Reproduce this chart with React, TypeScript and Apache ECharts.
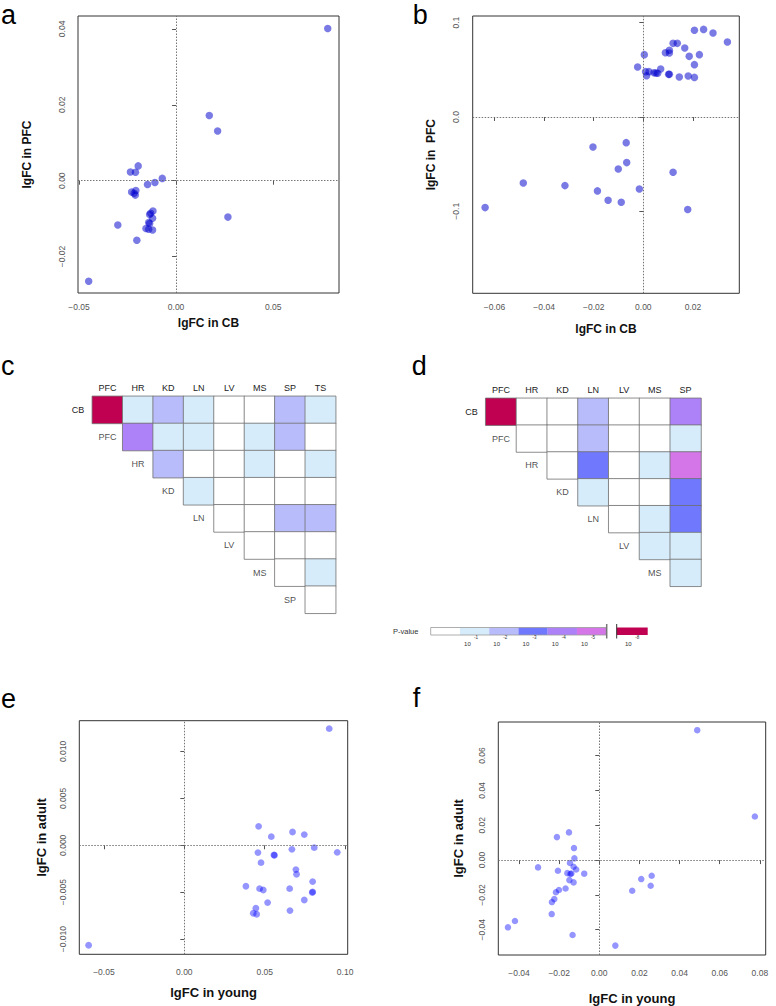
import React, { useEffect, useRef } from "react";
import * as echarts from "echarts";

// ---------- data ----------
const aCB = [0.0781, 0.0171, 0.0214, 0.0267, -0.0195, -0.0235, -0.0209, -0.0071, -0.0109, -0.0147, -0.0229, -0.0216, -0.021, -0.0207, -0.0119, -0.0131, -0.0136, -0.0121, -0.0141, -0.0136, -0.0155, -0.0141, -0.0121, -0.03, -0.0202, -0.045];
const aPFC = [0.0401, 0.0172, 0.0131, -0.0096, 0.0039, 0.0023, 0.0022, 0.0006, -0.0005, -0.001, -0.003, -0.0033, -0.0038, -0.0026, -0.008, -0.0086, -0.0089, -0.0099, -0.011, -0.0113, -0.0126, -0.0128, -0.013, -0.0117, -0.0157, -0.0265];

const bCB = [0.0339, 0.0243, 0.0206, 0.0281, 0.012, 0.0137, 0.0167, 0.0089, 0.0105, 0.0105, 0.0004, 0.0185, 0.0226, 0.0206, -0.0023, 0.007, 0.0009, 0.0023, 0.0043, 0.0058, 0.0013, 0.0102, 0.0105, 0.0145, 0.0181, 0.0206, 0.0051, -0.0203, -0.0069, -0.0067, -0.0101, 0.012, -0.0484, -0.0316, -0.0185, -0.0016, -0.0142, -0.0089, 0.0179, -0.0638];
const bPFC = [0.0795, 0.0929, 0.0919, 0.089, 0.0781, 0.0781, 0.0731, 0.0682, 0.0707, 0.0678, 0.0661, 0.0643, 0.0661, 0.0555, 0.053, 0.0509, 0.0481, 0.0481, 0.047, 0.0463, 0.0438, 0.0452, 0.0452, 0.0424, 0.0435, 0.042, 0.0466, -0.0318, -0.0272, -0.0484, -0.0551, -0.0587, -0.07, -0.0728, -0.0784, -0.0763, -0.0883, -0.0905, -0.0982, -0.0961];

const eYoung = [0.0901, 0.0462, 0.0541, 0.0673, 0.0746, 0.0808, 0.0951, 0.0669, 0.0458, 0.0557, 0.0561, 0.0477, 0.0694, 0.0698, 0.0383, 0.0468, 0.0491, 0.0655, 0.0798, 0.0796, 0.0798, 0.0746, 0.0518, 0.0445, 0.0429, 0.045, 0.0657, -0.0595];
const eAdult = [0.01243, 0.00202, 0.00092, 0.00142, 0.00114, -0.00025, -0.00075, -0.00043, -0.00078, -0.00103, -0.00106, -0.00185, -0.00259, -0.00309, -0.00437, -0.00462, -0.00476, -0.00462, -0.00387, -0.00504, -0.00497, -0.00583, -0.00611, -0.00671, -0.00725, -0.00735, -0.00696, -0.01066];

const fYoung = [0.0488, 0.0775, -0.0151, -0.0211, -0.0126, -0.0124, -0.0146, -0.0305, -0.0128, -0.0115, -0.0206, -0.0159, -0.0144, -0.0139, -0.0075, 0.0261, 0.0209, -0.0149, -0.0128, 0.0256, -0.0168, -0.0201, -0.0216, 0.0164, -0.0224, -0.0236, -0.0237, -0.042, -0.0455, -0.0133, 0.008];
const fAdult = [0.0746, 0.025, 0.0159, 0.0132, 0.0069, 0.001, -0.0017, -0.0042, -0.0038, -0.0054, -0.0061, -0.0075, -0.008, -0.0077, -0.0078, -0.009, -0.0109, -0.0115, -0.0128, -0.0147, -0.0163, -0.0172, -0.0185, -0.0176, -0.0224, -0.0241, -0.031, -0.035, -0.0386, -0.043, -0.0491];

// tick values
const aXTicks = [-0.05, 0, 0.05];
const aYTicks = [-0.02, 0, 0.02, 0.04];
const bXTicks = [-0.06, -0.04, -0.02, 0, 0.02];
const bYTicks = [-0.1, 0, 0.1];
const eXTicks = [-0.05, 0, 0.05, 0.1];
const eYTicks = [-0.01, -0.005, 0, 0.005, 0.01];
const fXTicks = [-0.04, -0.02, 0, 0.02, 0.04, 0.06, 0.08];
const fYTicks = [-0.04, -0.02, 0, 0.02, 0.04, 0.06];

// heatmap c
const cCols = ["PFC", "HR", "KD", "LN", "LV", "MS", "SP", "TS"];
const cRows = ["CB", "PFC", "HR", "KD", "LN", "LV", "MS", "SP"];
const cLevels = [
  [6, 1, 2, 1, 0, 0, 2, 1],
  [4, 1, 1, 0, 1, 2, 0],
  [2, 0, 0, 1, 0, 1],
  [1, 0, 0, 0, 0],
  [0, 0, 2, 2],
  [0, 0, 0],
  [0, 1],
  [0],
];
// heatmap d
const dCols = ["PFC", "HR", "KD", "LN", "LV", "MS", "SP"];
const dRows = ["CB", "PFC", "HR", "KD", "LN", "LV", "MS"];
const dLevels = [
  [6, 0, 0, 2, 0, 0, 4],
  [0, 0, 2, 0, 0, 1],
  [0, 3, 0, 1, 5],
  [1, 0, 0, 3],
  [0, 1, 3],
  [1, 1],
  [1],
];

// P-value legend
const levelColors = ["#ffffff", "#d6ecfa", "#b9bcfa", "#7078fe", "#ad81f8", "#d476e8", "#c00050"];
const legendExponents = ["-1", "-2", "-3", "-4", "-5"];
const legendTopExponent = "-8";

const FONT = '"Liberation Sans", Arial, Helvetica, sans-serif';

const fmt = (dec: number) => (v: number) => {
  const s = Math.abs(v).toFixed(dec);
  return v < -1e-12 ? "\u2212" + s : s;
};

function valueAxis(
  gridIndex: number,
  min: number,
  max: number,
  ticks: number[],
  dec: number,
  name: string,
  nameGap: number,
  nameSize: number,
  labelMargin: number,
  isY: boolean
) {
  return {
    type: "value",
    gridIndex,
    min,
    max,
    scale: true,
    name,
    nameLocation: "middle",
    nameGap,
    nameTextStyle: { fontFamily: FONT, fontWeight: "bold", fontSize: nameSize, color: "#111" },
    axisLine: { show: false },
    splitLine: { show: false },
    axisTick: { show: true, customValues: ticks, length: 4, lineStyle: { color: "#555", width: 1 } },
    axisLabel: {
      customValues: ticks,
      formatter: fmt(dec),
      fontFamily: FONT,
      fontSize: 8.5,
      color: "#555",
      margin: labelMargin,
      rotate: isY ? 90 : 0,
    },
  };
}

function scatterSeries(idx: number, xs: number[], ys: number[], size: number, color: string) {
  return {
    type: "scatter",
    xAxisIndex: idx,
    yAxisIndex: idx,
    data: xs.map((x, i) => [x, ys[i]]),
    symbolSize: size,
    itemStyle: { color },
    silent: true,
    markLine: {
      silent: true,
      symbol: ["none", "none"],
      label: { show: false },
      lineStyle: { type: [1.5, 1.5], color: "#666", width: 0.9 },
      data: [{ xAxis: 0 }, { yAxis: 0 }],
    },
  };
}

function heatData(levels: number[][]) {
  const out: number[][] = [];
  levels.forEach((row, i) => row.forEach((lv, k) => out.push([i + k, i, lv])));
  return out;
}

function catAxes(gridIndex: number, cols: string[], rows: string[]) {
  const x = {
    type: "category",
    gridIndex,
    data: cols,
    position: "top",
    axisLine: { show: false },
    axisTick: { show: false },
    splitLine: { show: false },
    axisLabel: { fontFamily: FONT, fontSize: 9, color: "#222", margin: 4, interval: 0 },
  };
  const y = {
    type: "category",
    gridIndex,
    data: rows,
    inverse: true,
    axisLine: { show: false },
    axisTick: { show: false },
    splitLine: { show: false },
    axisLabel: {
      fontFamily: FONT,
      fontSize: 9,
      color: "#222",
      margin: 8,
      interval: 0,
      formatter: (v: string, i: number) => (i === 0 ? v : ""),
    },
  };
  return [x, y];
}

function heatSeries(idx: number, levels: number[][]) {
  return {
    type: "heatmap",
    xAxisIndex: idx,
    yAxisIndex: idx,
    data: heatData(levels),
    itemStyle: { borderColor: "#707070", borderWidth: 0.8 },
    emphasis: { disabled: true },
    silent: true,
  };
}

function rowLabelSeries(idx: number, rows: string[]) {
  return {
    type: "scatter",
    xAxisIndex: idx,
    yAxisIndex: idx,
    color: "#222222",
    symbol: "circle",
    symbolSize: 0.01,
    itemStyle: { color: "#222222" },
    silent: true,
    data: rows.slice(1).map((r, k) => [k, k + 1, r]),
    label: {
      show: true,
      position: [0, 0],
      align: "center",
      verticalAlign: "middle",
      formatter: (p: any) => p.value[2],
      fontFamily: FONT,
      fontSize: 9,
      color: "#222222",
      textBorderWidth: 0,
    },
  };
}

function legendGraphics() {
  const els: any[] = [];
  const x0 = 430.7;
  const segW = 29.25;
  const y0 = 627.5;
  const h = 7.5;
  for (let i = 0; i < 6; i++) {
    els.push({
      type: "rect",
      shape: { x: x0 + i * segW, y: y0, width: segW, height: h },
      style: { fill: levelColors[i], stroke: null },
    });
  }
  els.push({
    type: "rect",
    shape: { x: x0, y: y0, width: segW * 6, height: h },
    style: { fill: null, stroke: "#999", lineWidth: 0.8 },
  });
  els.push({
    type: "line",
    shape: { x1: x0 + segW * 6 + 0.5, y1: 624, x2: x0 + segW * 6 + 0.5, y2: 638.5 },
    style: { stroke: "#777", lineWidth: 1.5 },
  });
  els.push({
    type: "rect",
    shape: { x: 616.7, y: y0, width: 31, height: h },
    style: { fill: levelColors[6], stroke: null },
  });
  els.push({
    type: "line",
    shape: { x1: 616.7, y1: 624, x2: 616.7, y2: 638.5 },
    style: { stroke: "#333", lineWidth: 1 },
  });
  els.push({
    type: "text",
    x: 393,
    y: 631,
    style: { text: "P-value", font: `7.5px ${FONT}`, fill: "#333", verticalAlign: "middle", align: "left" },
  });
  legendExponents.forEach((e, i) => {
    const bx = x0 + segW * (i + 1);
    els.push({
      type: "text",
      x: bx + 7.5,
      y: 644.3,
      style: { text: "10", font: `6px ${FONT}`, fill: "#333", verticalAlign: "middle", align: "center" },
    });
    els.push({
      type: "text",
      x: bx + 16,
      y: 637.5,
      style: { text: e, font: `4.5px ${FONT}`, fill: "#333", verticalAlign: "middle", align: "center" },
    });
  });
  els.push({
    type: "text",
    x: 628.3,
    y: 644.3,
    style: { text: "10", font: `6px ${FONT}`, fill: "#333", verticalAlign: "middle", align: "center" },
  });
  els.push({
    type: "text",
    x: 637.3,
    y: 637.5,
    style: { text: legendTopExponent, font: `4.5px ${FONT}`, fill: "#333", verticalAlign: "middle", align: "center" },
  });
  return els;
}

function panelLetter(t: string, x: number, y: number) {
  return {
    type: "text",
    x,
    y,
    style: { text: t, font: `27px ${FONT}`, fill: "#000", verticalAlign: "middle", align: "left" },
  };
}

export default function App() {
  const ref = useRef<HTMLDivElement>(null);
  useEffect(() => {
    if (!ref.current) return;
    const chart = echarts.init(ref.current, undefined, { renderer: "svg" });
    const boxed = { show: true, borderColor: "#333", borderWidth: 1, backgroundColor: "transparent" };
    const [cx, cy] = catAxes(2, cCols, cRows);
    const [dx, dy] = catAxes(3, dCols, dRows);
    const dark = "rgba(0,0,205,0.65)";
    const light = "rgba(0,0,255,0.52)";
    const option: any = {
      animation: false,
      backgroundColor: "#fff",
      textStyle: { fontFamily: FONT },
      grid: [
        { left: 78, top: 16, width: 261, height: 277, ...boxed },
        { left: 472.7, top: 16, width: 266.6, height: 277.3, ...boxed },
        { left: 92.3, top: 396.3, width: 243.4, height: 217, show: false },
        { left: 485.7, top: 398.3, width: 215.3, height: 188, show: false },
        { left: 79.3, top: 720.7, width: 268.4, height: 233.6, ...boxed },
        { left: 498.3, top: 722, width: 267.4, height: 233.3, ...boxed },
      ],
      xAxis: [
        valueAxis(0, -0.0505, 0.0839, aXTicks, 2, "lgFC in CB", 24, 12, 9, false),
        valueAxis(1, -0.0688, 0.0387, bXTicks, 2, "lgFC in CB", 29.5, 12, 9, false),
        cx,
        dx,
        valueAxis(4, -0.0653, 0.1016, eXTicks, 2, "lgFC in young", 32, 13, 13, false),
        valueAxis(5, -0.0503, 0.0829, fXTicks, 2, "lgFC in young", 37, 13, 13, false),
      ],
      yAxis: [
        valueAxis(0, -0.0296, 0.0434, aYTicks, 2, "lgFC in PFC", 45, 12, 12, true),
        valueAxis(1, -0.187, 0.1071, bYTicks, 1, "lgFC in  PFC", 36, 12, 12, true),
        cy,
        dy,
        valueAxis(4, -0.01162, 0.01328, eYTicks, 3, "lgFC in adult", 31, 13, 12, true),
        valueAxis(5, -0.0545, 0.0793, fYTicks, 2, "lgFC in adult", 33.5, 13, 12, true),
      ],
      visualMap: [
        {
          type: "piecewise",
          show: false,
          dimension: 2,
          seriesIndex: [2, 3],
          pieces: levelColors.map((c, i) => ({ value: i, color: c })),
        },
      ],
      series: [
        scatterSeries(0, aCB, aPFC, 7.5, dark),
        scatterSeries(1, bCB, bPFC, 7.5, dark),
        heatSeries(2, cLevels),
        heatSeries(3, dLevels),
        scatterSeries(4, eYoung, eAdult, 6.8, light),
        scatterSeries(5, fYoung, fAdult, 6.5, light),
        rowLabelSeries(2, cRows),
        rowLabelSeries(3, dRows),
      ],
      graphic: [
        panelLetter("a", 1, 14.6),
        panelLetter("b", 412.7, 14.6),
        panelLetter("c", 1, 365.6),
        panelLetter("d", 411.7, 365.6),
        panelLetter("e", 1, 698.9),
        panelLetter("f", 412.7, 697.9),
        ...legendGraphics(),
      ],
    };
    chart.setOption(option);
    return () => chart.dispose();
  }, []);
  return (
    <div
      ref={ref}
      style={{ position: "absolute", left: 0, top: 0, width: 776, height: 1006, background: "#fff" }}
    />
  );
}
